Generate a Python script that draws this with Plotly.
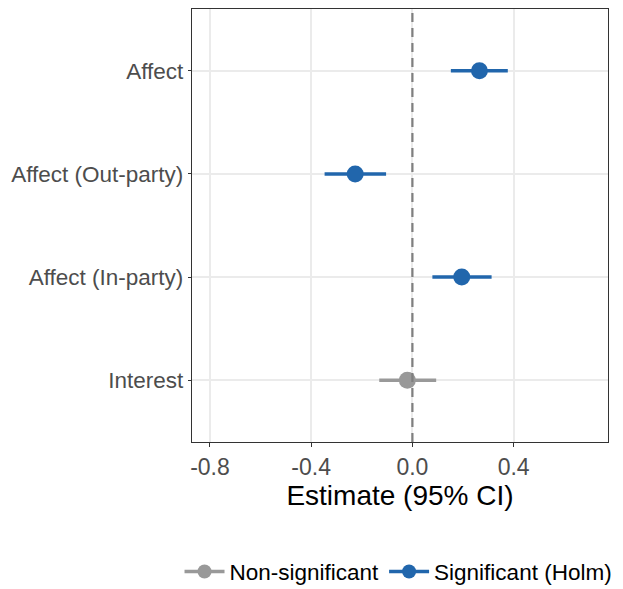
import plotly.graph_objects as go

categories = ["Interest", "Affect (In-party)", "Affect (Out-party)", "Affect"]
estimates = [-0.020, 0.195, -0.226, 0.265]
ci_low = [-0.131, 0.079, -0.347, 0.152]
ci_high = [0.094, 0.313, -0.104, 0.377]
significance = ["Non-significant", "Significant (Holm)", "Significant (Holm)", "Significant (Holm)"]
x_ticks = [-0.8, -0.4, 0.0, 0.4]
x_tick_labels = ["-0.8", "-0.4", "0.0", "0.4"]
reference_x = 0.0

colors = {"Non-significant": "#999999", "Significant (Holm)": "#2166AC"}
groups = ["Non-significant", "Significant (Holm)"]

fig = go.Figure()

# zero reference line (on an overlaying 0-1 axis so it spans the full panel)
fig.add_trace(go.Scatter(x=[reference_x, reference_x], y=[0, 1], yaxis="y2", mode="lines",
                         showlegend=False, hoverinfo="skip",
                         line=dict(color="#7F7F7F", width=2.2, dash="9px,6px")))

for g in groups:
    xs, ys = [], []
    px, py = [], []
    for c, e, lo, hi, s in zip(categories, estimates, ci_low, ci_high, significance):
        if s != g:
            continue
        xs += [lo, hi, None]
        ys += [c, c, None]
        px.append(e)
        py.append(c)
    fig.add_trace(go.Scatter(x=xs, y=ys, mode="lines", showlegend=False,
                             line=dict(color=colors[g], width=3.5), hoverinfo="skip"))
    fig.add_trace(go.Scatter(x=px, y=py, mode="markers", showlegend=False,
                             marker=dict(color=colors[g], size=17, line=dict(width=0))))
    fig.add_trace(go.Scatter(x=[None], y=[None], mode="lines+markers", name=g,
                             line=dict(color=colors[g], width=3.5),
                             marker=dict(color=colors[g], size=14)))

fig.update_layout(
    width=615, height=581,
    margin=dict(l=184, r=15, t=1, b=147, autoexpand=False),
    paper_bgcolor="white", plot_bgcolor="white",
    font=dict(family="Liberation Sans, Arial, sans-serif"),
    showlegend=True,
    legend=dict(orientation="h", x=-0.03, xanchor="left", y=-0.30, yanchor="middle",
                font=dict(size=22.5, color="black"), itemwidth=40,
                bgcolor="rgba(0,0,0,0)"),
    xaxis=dict(range=[-0.871, 0.773], tickvals=x_ticks, ticktext=x_tick_labels,
               showgrid=True, gridcolor="#EBEBEB", gridwidth=2,
               zeroline=False, showline=True, linecolor="#333333", linewidth=1.4,
               mirror=True, ticks="outside", ticklen=4, tickcolor="#333333", tickwidth=1.4,
               tickfont=dict(size=23, color="#4D4D4D"),
               title=dict(text="Estimate (95% CI)", font=dict(size=28, color="black"), standoff=6)),
    yaxis=dict(type="category", categoryorder="array", categoryarray=categories,
               range=[-0.6, 3.6],
               showgrid=True, gridcolor="#EBEBEB", gridwidth=2,
               zeroline=False, showline=True, linecolor="#333333", linewidth=1.4,
               mirror=True, ticks="outside", ticklen=3, tickcolor="#333333", tickwidth=1.4,
               tickfont=dict(size=22.5, color="#4D4D4D")),
    yaxis2=dict(overlaying="y", range=[0, 1], visible=False, showgrid=False, zeroline=False),
)

fig.write_html("out.html")
